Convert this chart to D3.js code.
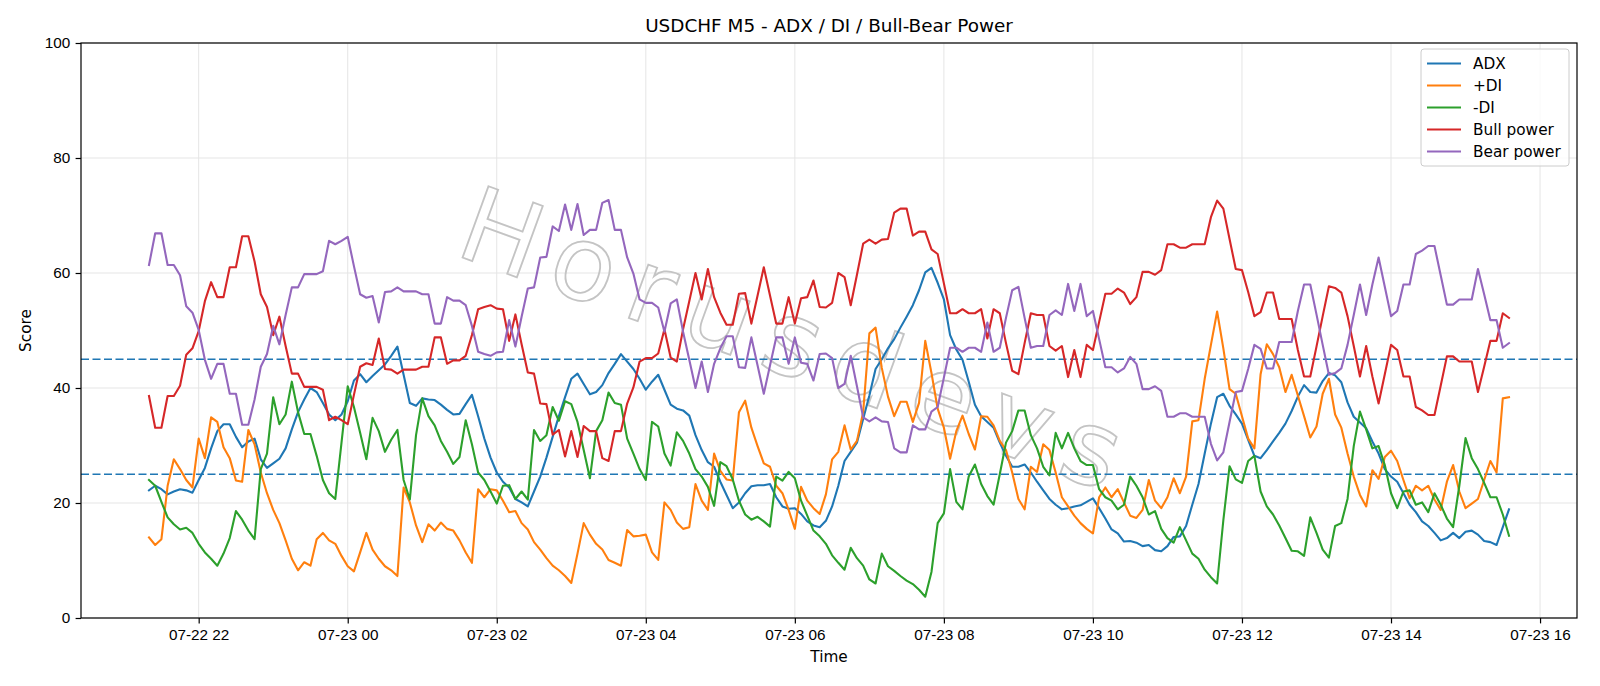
<!DOCTYPE html>
<html>
<head>
<meta charset="utf-8">
<style>
    body {
        margin: 0;
        background-color: #ffffff;
    }

    svg {
        display: block;
        font-family: "DejaVu Sans", sans-serif;
    }

    .grid line {
        stroke: #e5e5e5;
        stroke-width: 1px;
    }

    .axis text {
        font-size: 15.3px;
        fill: #000;
    }

    .axis line {
        stroke: #000;
        stroke-width: 1.2px;
    }

    .series {
        fill: none;
        stroke-width: 2.1px;
        stroke-linejoin: round;
        stroke-linecap: square;
    }

    .level {
        stroke: #1f77b4;
        stroke-width: 1.6px;
        stroke-dasharray: 8, 3.5;
    }

    .legend text {
        font-size: 15.3px;
    }
</style>
</head>
<body>
<svg id="chart" width="1600" height="686"></svg>

<script src="https://cdn.jsdelivr.net/npm/d3@7"></script>
<script>
    // 5-minute bars, 07-22 21:20 -> 07-23 15:35
    var startTime = Date.UTC(2023, 6, 22, 21, 20);
    var stepMinutes = 5;

    var adx = [
        22.2, 23, 22.4, 21.5, 22, 22.4, 22.2, 21.8, 24, 26.1,
        29.5, 32.5, 33.7, 33.7, 31.5, 29.7, 30.7, 31.2, 27.6, 26.1,
        26.9, 27.7, 29.5, 32.8, 35.8, 38, 40, 39.3, 37.4, 35.4,
        34.4, 35.4, 37.7, 41.3, 42.4, 41, 42.1, 43.1, 44.1, 45.6,
        47.2, 42.3, 37.4, 36.9, 38.2, 38, 37.9, 37.1, 36.2, 35.4,
        35.5, 37.2, 38.8, 35.1, 31.2, 27.9, 25.3, 23.7, 22.7, 20.7,
        20.1, 19.4, 22, 24.6, 27.9, 31.5, 35.1, 38.4, 41.6, 42.5,
        40.7, 38.9, 39.3, 40.5, 42.6, 44.2, 45.9, 44.6, 43.3, 41.6,
        39.7, 41.1, 42.3, 39.7, 37.1, 36.4, 36.1, 35.2, 31.8, 29.2,
        27.1, 26.3, 23.7, 21.4, 19.1, 20.1, 21.7, 22.9, 23.1, 23.1,
        23.3, 21, 19.4, 19, 19.1, 18.1, 16.8, 16.1, 15.8, 16.9,
        19.4, 23, 27.3, 28.9, 30.5, 34.6, 38.7, 43.3, 45, 46.9,
        48.5, 50.5, 52.4, 54.4, 57, 60.1, 60.9, 58.3, 55.4, 49.2,
        46.7, 44.9, 41.1, 37.1, 35.1, 34.1, 33.1, 30.5, 28.2, 26.3,
        26.3, 26.7, 25.3, 23.7, 22.2, 20.7, 19.7, 18.9, 19.1, 19.4,
        19.6, 20.2, 20.8, 19.1, 17.3, 15.4, 14.7, 13.3, 13.4, 13.1,
        12.5, 12.7, 11.8, 11.6, 12.5, 14.1, 14.2, 16, 19.7, 23.3,
        28.6, 33.8, 38.4, 39, 36.9, 35.4, 33.8, 31, 28.2, 27.8,
        29.2, 30.7, 32.2, 33.8, 36, 38.5, 40.5, 39.3, 39.2, 41.2,
        42.6, 42.2, 41, 37.5, 35, 34, 33, 30.7, 28.6, 25.9,
        24.6, 23.7, 21.7, 19.7, 18.4, 16.8, 16, 14.8, 13.5, 13.9,
        14.8, 13.9, 15, 15.2, 14.5, 13.4, 13.2, 12.7, 15.8, 18.9
    ];

    var plusDI = [
        14, 12.7, 13.7, 23, 27.6, 25.9, 24, 22.7, 31.2, 27.8,
        34.9, 34.1, 29.7, 27.8, 23.9, 23.7, 32.7, 30.2, 25.3, 21.7,
        18.8, 16.5, 13.5, 10.3, 8.3, 9.7, 9.1, 13.7, 14.8, 13.5,
        12.9, 10.8, 9, 8.1, 11.4, 14.8, 11.9, 10.3, 9, 8.3,
        7.3, 22.7, 20.1, 16.1, 13.2, 16.3, 15.2, 16.6, 15.5, 15.2,
        13.5, 11.4, 9.6, 22.4, 21, 22.4, 22.2, 20.4, 18.4, 18.6,
        16.5, 15.4, 13.2, 11.9, 10.4, 9.1, 8.3, 7.3, 6.1, 11.2,
        16.5, 14.5, 12.9, 11.9, 10.1, 9.6, 9.1, 15.3, 14.2, 14.3,
        14.5, 11.4, 10.1, 20.1, 18.8, 16.6, 15.5, 15.8, 23.3, 20.4,
        18.8, 28.6, 25.6, 24.1, 23.9, 35.8, 37.8, 33.1, 29.9, 26.9,
        26.3, 23, 21.7, 18.8, 15.5, 22.8, 20.4, 19.1, 18.1, 21.5,
        27.6, 28.9, 33.5, 29.3, 30.8, 35.8, 49.5, 50.5, 43.5, 38.5,
        35.1, 37.6, 37.6, 34.1, 37.4, 48.2, 42.6, 36.4, 33.1, 27.7,
        32.5, 35.2, 32, 29.3, 35.1, 35, 33.5, 30.8, 29.2, 25.3,
        20.7, 18.9, 26.3, 25.4, 30.2, 29.2, 25.3, 21, 19.4, 17.8,
        16.5, 15.5, 14.7, 21, 22.7, 21, 22.4, 20.1, 17.8, 17.4,
        18.8, 24, 20.4, 19.1, 21, 24.3, 21.7, 24.6, 34.2, 34.4,
        41.6, 47.5, 53.3, 46.9, 39.8, 39, 35.1, 31.2, 29.5, 42.4,
        47.6, 45.9, 43.6, 39.3, 42.3, 38.7, 35.1, 31.4, 33.3, 39,
        41.6, 35.4, 33.1, 28.6, 24.6, 21.4, 19.4, 25.7, 24.2, 28,
        29.1, 27.3, 24, 20.8, 23, 22.2, 23, 20.6, 18.8, 23.7,
        26.6, 22, 19.1, 19.9, 20.7, 24, 27.3, 25.3, 38.2, 38.4
    ];

    var minusDI = [
        24, 23, 20.2, 17.5, 16.3, 15.4, 15.7, 14.8, 12.9, 11.4,
        10.3, 9.1, 11.2, 13.9, 18.6, 17.1, 15.2, 13.7, 25.9, 28.6,
        38.4, 33.7, 35.4, 41.1, 35.8, 32, 32, 28.2, 24, 21.7,
        20.7, 30.5, 40.3, 36.7, 32.2, 27.6, 34.8, 32.5, 28.9, 31,
        32.7, 24, 20.6, 31.8, 38.2, 35.1, 33.5, 30.8, 28.9, 26.8,
        28, 34.4, 30.2, 25.3, 24, 22, 19.9, 23, 23.1, 20.7,
        22, 20.6, 32.7, 30.8, 31.8, 36.7, 34.3, 37.7, 37.2, 34.1,
        29.2, 24.3, 32.5, 34.4, 39.2, 37.4, 37.1, 31.2, 28.6, 25.9,
        24, 34.1, 33.3, 28.6, 26.5, 32.3, 30.8, 28.6, 25.9, 24.6,
        22.8, 19.5, 27.1, 26.4, 24.1, 20.4, 18, 17.1, 17.6, 16.8,
        15.9, 24.6, 23.9, 25.4, 24.3, 20.4, 17.8, 15.2, 14.2, 12.9,
        10.9, 9.6, 8.4, 12.2, 10.4, 9.1, 6.7, 6, 11.2, 9,
        8.2, 7.3, 6.5, 5.9, 4.9, 3.7, 8, 16.5, 18.2, 25.9,
        20.2, 18.9, 24.6, 26.7, 23.3, 21.2, 19.7, 25, 30.5, 32.5,
        36.1, 36.1, 31.8, 29.5, 26.3, 24.8, 32.2, 29.5, 32.2, 29.5,
        27.3, 26.6, 26.6, 22.4, 21, 20.4, 18.9, 19.7, 24.6, 23,
        21, 18, 18.6, 15.5, 13.9, 13.1, 15.8, 13.5, 11.2, 10.3,
        8.4, 7.1, 6, 17, 26.4, 24.1, 23.5, 27.3, 28.2, 22,
        19.4, 18, 16.1, 13.9, 11.7, 11.6, 10.8, 17.5, 14.8, 11.9,
        10.5, 16, 16.5, 20.7, 29.9, 35.9, 32.8, 29.5, 29.9, 26.6,
        21.7, 19.1, 22, 22.2, 19.7, 20.1, 18.4, 21.7, 19.7, 17.3,
        15.8, 23, 31.3, 27.8, 25.9, 23.5, 21, 21, 18, 14.3
    ];

    var bullPower = [
        38.6, 33.1, 33.1, 38.6, 38.6, 40.4, 45.8, 46.9, 49.9, 55.1,
        58.4, 55.8, 55.8, 61, 61, 66.4, 66.4, 62, 56.3, 54.1,
        49.2, 52.4, 47.3, 42.5, 42.5, 40.2, 40.2, 40.2, 39.7, 34.4,
        35, 34.4, 33.7, 38.8, 43.7, 44.3, 44, 48.6, 43.3, 43.2,
        42.5, 43.2, 43.2, 43.2, 43.7, 43.7, 48.8, 48.8, 44.2, 44.8,
        44.8, 45.6, 49.2, 53.7, 54.1, 54.4, 53.8, 53.7, 48.2, 52.8,
        47.6, 42.7, 42.5, 37.3, 37.2, 31.9, 32.7, 28.1, 32.5, 28,
        33.4, 32.5, 32.5, 27.8, 27.3, 32.5, 32.5, 37.3, 40.1, 44.6,
        45.2, 45.2, 46, 50.2, 45.3, 44.6, 50.2, 55.1, 60, 55.4,
        60.7, 55.8, 53.1, 51, 51, 56.4, 56.5, 51.2, 56.1, 61,
        56.1, 51.2, 51.2, 55.8, 51.2, 55.6, 55.8, 58.7, 54.1, 54,
        54.8, 60, 59.3, 54.4, 59.7, 65.1, 65.8, 65.1, 65.8, 65.9,
        70.5, 71.2, 71.2, 66.5, 67.2, 67.2, 64.1, 63.3, 58.2, 53,
        53, 53.7, 53, 53, 53.7, 48.6, 53.7, 53, 47.8, 43,
        42.4, 47.8, 53, 52.7, 52.7, 47.3, 46.5, 47.3, 41.9, 46.6,
        41.9, 47.5, 46.6, 51.5, 56.4, 56.4, 57.3, 56.6, 54.6, 55.8,
        60.2, 60.2, 59.7, 60.5, 65, 65, 64.4, 64.4, 65, 65,
        65, 69.7, 72.6, 71.2, 65.9, 60.7, 60.5, 56.7, 52.5, 53.2,
        56.6, 56.6, 52, 52, 52, 46.6, 42, 42, 47.2, 52.5,
        57.7, 57.4, 56.6, 52.5, 47.3, 42, 47.3, 42, 37.3, 42.4,
        47.5, 46.6, 42, 42, 36.7, 36.1, 35.3, 35.3, 40.4, 45.5,
        45.5, 44.6, 44.6, 44.6, 39.3, 43.7, 48.2, 48.2, 53, 52.2
    ];

    var bearPower = [
        61.4, 66.9, 66.9, 61.4, 61.4, 59.6, 54.2, 53.1, 50.1, 44.9,
        41.6, 44.2, 44.2, 39, 39, 33.6, 33.6, 38, 43.7, 45.9,
        50.8, 47.6, 52.7, 57.5, 57.5, 59.8, 59.8, 59.8, 60.3, 65.6,
        65, 65.6, 66.3, 61.2, 56.3, 55.7, 56, 51.4, 56.7, 56.8,
        57.5, 56.8, 56.8, 56.8, 56.3, 56.3, 51.2, 51.2, 55.8, 55.2,
        55.2, 54.4, 50.8, 46.3, 45.9, 45.6, 46.2, 46.3, 51.8, 47.2,
        52.4, 57.3, 57.5, 62.7, 62.8, 68.1, 67.3, 71.9, 67.5, 72,
        66.6, 67.5, 67.5, 72.2, 72.7, 67.5, 67.5, 62.7, 59.9, 55.4,
        54.8, 54.8, 54, 49.8, 54.7, 55.4, 49.8, 44.9, 40, 44.6,
        39.3, 44.2, 46.9, 49, 49, 43.6, 43.5, 48.8, 43.9, 39,
        43.9, 48.8, 48.8, 44.2, 48.8, 44.4, 44.2, 41.3, 45.9, 46,
        45.2, 40, 40.7, 45.6, 40.3, 34.9, 34.2, 34.9, 34.2, 34.1,
        29.5, 28.8, 28.8, 33.5, 32.8, 32.8, 35.9, 36.7, 41.8, 47,
        47, 46.3, 47, 47, 46.3, 51.4, 46.3, 47, 52.2, 57,
        57.6, 52.2, 47, 47.3, 47.3, 52.7, 53.5, 52.7, 58.1, 53.4,
        58.1, 52.5, 53.4, 48.5, 43.6, 43.6, 42.7, 43.4, 45.4, 44.2,
        39.8, 39.8, 40.3, 39.5, 35, 35, 35.6, 35.6, 35, 35,
        35, 30.3, 27.4, 28.8, 34.1, 39.3, 39.5, 43.3, 47.5, 46.8,
        43.4, 43.4, 48, 48, 48, 53.4, 58, 58, 52.8, 47.5,
        42.3, 42.6, 43.4, 47.5, 52.7, 58, 52.7, 58, 62.7, 57.6,
        52.5, 53.4, 58, 58, 63.3, 63.9, 64.7, 64.7, 59.6, 54.5,
        54.5, 55.4, 55.4, 55.4, 60.7, 56.3, 51.8, 51.8, 47, 47.8
    ];

    var seriesNames = ["ADX", "+DI", "-DI", "Bull power", "Bear power"];
    var seriesColors = ["#1f77b4", "#ff7f0e", "#2ca02c", "#d62728", "#9467bd"];
    var yTicks = [0, 20, 40, 60, 80, 100];
    var levels = [25, 45];

    var seriesValues = [adx, plusDI, minusDI, bullPower, bearPower];

    var times = adx.map(function(d, i) {
        return new Date(startTime + i * stepMinutes * 60000);
    });

    var svg = d3.select("#chart"),
        margin = {top: 43, right: 23, bottom: 68, left: 81},
        width = +svg.attr("width") - margin.left - margin.right,
        height = +svg.attr("height") - margin.top - margin.bottom;

    // matplotlib style 5% x margin
    var span = times[times.length - 1] - times[0];
    var x = d3.scaleUtc()
        .domain([new Date(+times[0] - span * 0.05), new Date(+times[times.length - 1] + span * 0.05)])
        .range([0, width]);

    var y = d3.scaleLinear()
        .domain([0, 100])
        .range([height, 0]);

    var g = svg.append("g")
        .attr("transform", "translate(" + margin.left + "," + margin.top + ")");

    var xTicks = x.ticks(d3.utcHour.every(2));

    // grid
    var grid = g.append("g").attr("class", "grid");
    grid.selectAll("line.v")
        .data(xTicks)
        .enter().append("line")
        .attr("x1", function(d) { return x(d); })
        .attr("x2", function(d) { return x(d); })
        .attr("y1", 0)
        .attr("y2", height);
    grid.selectAll("line.h")
        .data(yTicks)
        .enter().append("line")
        .attr("x1", 0)
        .attr("x2", width)
        .attr("y1", function(d) { return y(d); })
        .attr("y2", function(d) { return y(d); });

    // watermark
    g.append("text")
        .attr("transform", "translate(719,299) rotate(20)")
        .attr("text-anchor", "middle")
        .attr("dominant-baseline", "central")
        .style("font-size", "104px")
        .style("letter-spacing", "18px")
        .style("fill", "none")
        .style("stroke", "#c4c4c4")
        .style("stroke-width", 1.8)
        .text("Horusdevs");

    // threshold lines
    g.selectAll("line.level")
        .data(levels)
        .enter().append("line")
        .attr("class", "level")
        .attr("x1", 0)
        .attr("x2", width)
        .attr("y1", function(d) { return y(d); })
        .attr("y2", function(d) { return y(d); });

    var line = d3.line()
        .x(function(d, i) { return x(times[i]); })
        .y(function(d) { return y(d); });

    g.selectAll("path.series")
        .data(seriesValues)
        .enter().append("path")
        .attr("class", "series")
        .attr("stroke", function(d, i) { return seriesColors[i]; })
        .attr("d", line);

    // axes
    var xAxis = g.append("g")
        .attr("class", "axis")
        .attr("transform", "translate(0," + height + ")")
        .call(d3.axisBottom(x)
            .tickValues(xTicks)
            .tickFormat(d3.utcFormat("%m-%d %H"))
            .tickSize(5.4)
            .tickPadding(5.4));
    xAxis.select(".domain").remove();

    var yAxis = g.append("g")
        .attr("class", "axis")
        .call(d3.axisLeft(y)
            .tickValues(yTicks)
            .tickSize(5.4)
            .tickPadding(5.4));
    yAxis.select(".domain").remove();

    // frame
    g.append("rect")
        .attr("width", width)
        .attr("height", height)
        .style("fill", "none")
        .style("stroke", "#000")
        .style("stroke-width", 1.2);

    // labels
    svg.append("text")
        .attr("x", margin.left + width / 2)
        .attr("y", 32)
        .attr("text-anchor", "middle")
        .style("font-size", "18.4px")
        .text("USDCHF M5 - ADX / DI / Bull-Bear Power");

    svg.append("text")
        .attr("x", margin.left + width / 2)
        .attr("y", 662)
        .attr("text-anchor", "middle")
        .style("font-size", "15.3px")
        .text("Time");

    svg.append("text")
        .attr("transform", "translate(31," + (margin.top + height / 2) + ") rotate(-90)")
        .attr("text-anchor", "middle")
        .style("font-size", "15.3px")
        .text("Score");

    // legend
    var legend = svg.append("g")
        .attr("class", "legend")
        .attr("transform", "translate(1421,49)");

    legend.append("rect")
        .attr("width", 148)
        .attr("height", 117)
        .attr("rx", 3)
        .style("fill", "#fff")
        .style("fill-opacity", 0.8)
        .style("stroke", "#cccccc");

    var item = legend.selectAll("g.item")
        .data(seriesNames)
        .enter().append("g")
        .attr("class", "item")
        .attr("transform", function(d, i) { return "translate(0," + (14.5 + i * 22) + ")"; });

    item.append("line")
        .attr("x1", 6)
        .attr("x2", 40)
        .attr("stroke", function(d, i) { return seriesColors[i]; })
        .attr("stroke-width", 2.1);

    item.append("text")
        .attr("x", 52)
        .attr("dy", "0.35em")
        .text(function(d) { return d; });
</script>
</body>
</html>
